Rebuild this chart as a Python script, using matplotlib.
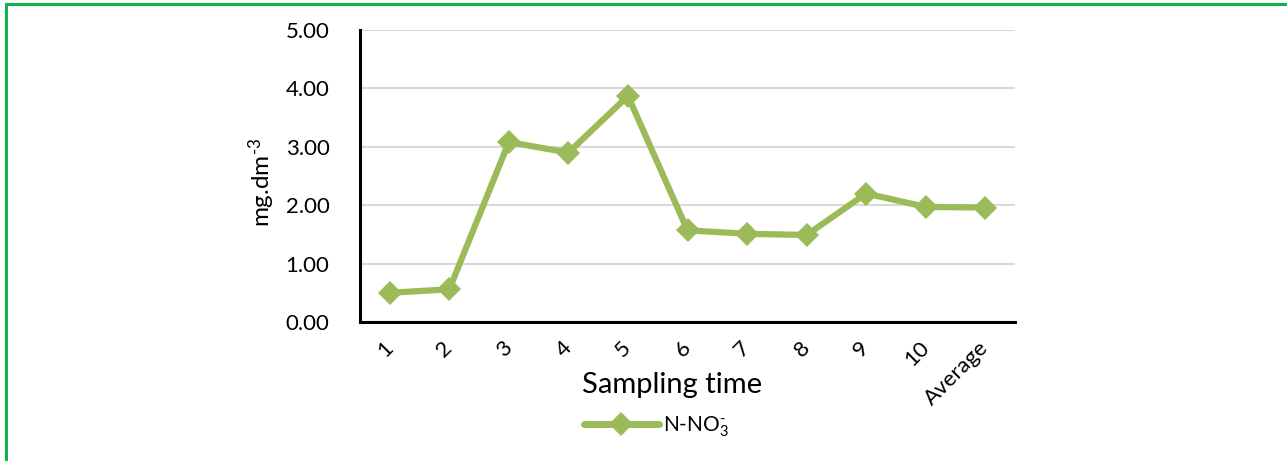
import matplotlib.pyplot as plt
from matplotlib.lines import Line2D

# nitrate concentration per sampling time
categories = ['1', '2', '3', '4', '5', '6', '7', '8', '9', '10', 'Average']
n_no3 = [0.50, 0.56, 3.08, 2.90, 3.87, 1.57, 1.51, 1.49, 2.20, 1.97, 1.96]

plt.rcParams['font.family'] = ['Lato', 'DejaVu Sans']
plt.rcParams['mathtext.fontset'] = 'custom'
plt.rcParams['mathtext.rm'] = 'Lato'
plt.rcParams['mathtext.it'] = 'Lato'

fig = plt.figure(figsize=(12.87, 4.61), dpi=100)
ax = fig.add_axes([0.2797, 0.3015, 0.509, 0.6335])

x = list(range(len(categories)))
ax.plot(x, n_no3, color='#9bbb59', linewidth=4.5, marker='D', markersize=12,
        markeredgewidth=0, zorder=3)

ax.set_xlim(-0.5, len(categories) - 0.5)
ax.set_ylim(0, 5)
ax.set_yticks([0, 1, 2, 3, 4, 5])
ax.set_yticklabels(['{:.2f}'.format(v) for v in [0, 1, 2, 3, 4, 5]], fontsize=16)
ax.set_xticks(x)
ax.set_xticklabels(categories, fontsize=16, rotation=45, ha='right', va='center',
                   rotation_mode='anchor')
ax.tick_params(axis='y', length=0, pad=22)
ax.tick_params(axis='x', length=0, pad=16)

ax.grid(axis='y', color='#d9d9d9', linewidth=1.5, zorder=0)
ax.set_axisbelow(True)
for s in ['top', 'right']:
    ax.spines[s].set_visible(False)
for s in ['left', 'bottom']:
    ax.spines[s].set_linewidth(2.2)
    ax.spines[s].set_color('black')

fig.text(0.2036, 0.605, r'mg.dm$^{\text{-}3}$', fontsize=17.5, rotation=90,
         ha='center', va='center')
fig.text(0.522, 0.165, 'Sampling time', fontsize=21, ha='center', va='center')

handle = Line2D([], [], color='#9bbb59', linewidth=5, marker='D', markersize=12,
                markeredgewidth=0, solid_capstyle='round')
fig.legend([handle], [r'N-NO$_{3}^{\text{-}}$'], loc='center',
           bbox_to_anchor=(0.51, 0.075), frameon=False, fontsize=15,
           handlelength=3.6, handletextpad=0.2)

# green frame on the top and left edges
fig.add_artist(Line2D([0.0043, 1], [0.9913, 0.9913], transform=fig.transFigure,
                      color='#12b24b', linewidth=2.2))
fig.add_artist(Line2D([0.0043, 0.0043], [0, 0.9913], transform=fig.transFigure,
                      color='#12b24b', linewidth=2.2))

fig.savefig('out.png', dpi=100)
